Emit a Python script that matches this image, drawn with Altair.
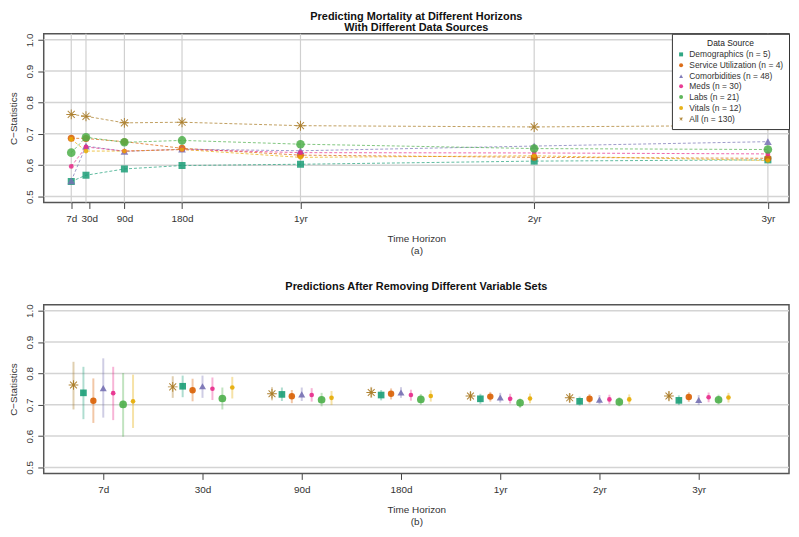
import math
import altair as alt
import pandas as pd

# ---------------- data ----------------
sources = ["Demographics", "Service Utilization", "Comorbidities", "Meds", "Labs", "Vitals", "All"]
counts = [5, 4, 48, 30, 21, 12, 130]
colors = ["#1B9E77", "#D95F02", "#7570B3", "#E7298A", "#4DAF4A", "#E6AB02", "#A6761D"]

horizons = ["7d", "30d", "90d", "180d", "1yr", "2yr", "3yr"]
horizon_days = [7, 30, 90, 180, 365, 730, 1095]
tick_days = [7, 35, 90, 180, 365, 730, 1095]
y_ticks = [0.5, 0.6, 0.7, 0.8, 0.9, 1.0]

# panel (a): C-statistic by data source and horizon
top_demo = [0.548, 0.568, 0.588, 0.599, 0.603, 0.613, 0.617]
top_serv = [0.686, 0.685, 0.675, 0.654, 0.632, 0.625, 0.622]
top_comorb = [0.550, 0.661, 0.644, 0.651, 0.646, 0.661, 0.675]
top_meds = [0.596, 0.658, 0.645, 0.650, 0.640, 0.639, 0.636]
top_labs = [0.640, 0.689, 0.673, 0.679, 0.667, 0.653, 0.650]
top_vitals = [0.683, 0.645, 0.645, 0.650, 0.625, 0.630, 0.615]
top_all = [0.762, 0.756, 0.735, 0.737, 0.726, 0.722, 0.727]

# panel (b): after removing variable sets (estimate, lower, upper)
bot_all_est = [0.763, 0.757, 0.735, 0.739, 0.728, 0.722, 0.728]
bot_all_lo = [0.685, 0.722, 0.714, 0.722, 0.713, 0.707, 0.711]
bot_all_hi = [0.837, 0.791, 0.756, 0.757, 0.742, 0.736, 0.744]
bot_demo_est = [0.738, 0.759, 0.733, 0.731, 0.719, 0.711, 0.714]
bot_demo_lo = [0.654, 0.724, 0.712, 0.714, 0.703, 0.697, 0.699]
bot_demo_hi = [0.821, 0.793, 0.755, 0.747, 0.735, 0.726, 0.730]
bot_serv_est = [0.713, 0.746, 0.727, 0.735, 0.726, 0.719, 0.725]
bot_serv_lo = [0.642, 0.711, 0.705, 0.717, 0.710, 0.704, 0.709]
bot_serv_hi = [0.784, 0.783, 0.747, 0.752, 0.741, 0.734, 0.740]
bot_comorb_est = [0.753, 0.759, 0.733, 0.739, 0.723, 0.716, 0.715]
bot_comorb_lo = [0.659, 0.722, 0.712, 0.722, 0.707, 0.702, 0.699]
bot_comorb_hi = [0.848, 0.793, 0.755, 0.756, 0.738, 0.731, 0.731]
bot_meds_est = [0.737, 0.751, 0.731, 0.731, 0.719, 0.717, 0.724]
bot_meds_lo = [0.651, 0.715, 0.710, 0.713, 0.704, 0.703, 0.708]
bot_meds_hi = [0.821, 0.787, 0.753, 0.748, 0.735, 0.732, 0.739]
bot_labs_est = [0.701, 0.720, 0.716, 0.717, 0.706, 0.709, 0.716]
bot_labs_lo = [0.598, 0.685, 0.695, 0.700, 0.690, 0.695, 0.701]
bot_labs_hi = [0.801, 0.755, 0.738, 0.734, 0.720, 0.724, 0.732]
bot_vitals_est = [0.711, 0.755, 0.722, 0.728, 0.720, 0.717, 0.723]
bot_vitals_lo = [0.626, 0.720, 0.699, 0.710, 0.705, 0.702, 0.707]
bot_vitals_hi = [0.796, 0.789, 0.744, 0.746, 0.736, 0.733, 0.738]

# ---------------- styling helpers ----------------
FONT = "Liberation Sans"
labels = [f"{s} (n = {k})" for s, k in zip(sources, counts)]

# asterisk (R pch 8): four crossed thin bars as a filled path
bar_w = 0.2
subpaths = []
for ang in [0, 45, 90, 135]:
    a = math.radians(ang)
    c, s = math.cos(a), math.sin(a)
    corners = [(-1, -bar_w / 2), (1, -bar_w / 2), (1, bar_w / 2), (-1, bar_w / 2)]
    rot = [(x * c - y * s, x * s + y * c) for x, y in corners]
    subpaths.append("M" + "L".join(f"{x:.3f},{y:.3f}" for x, y in rot) + "Z")
asterisk = "".join(subpaths)

shapes = ["square", "circle", "triangle-up", "circle", "circle", "circle", asterisk]
sizes_top = [50, 50, 60, 24, 75, 22, 100]
sizes_bot = [45, 42, 50, 22, 60, 22, 95]
group_order = [1, 2, 3, 4, 5, 6, 0]  # position inside each horizon group (All first)

top_series = [top_demo, top_serv, top_comorb, top_meds, top_labs, top_vitals, top_all]
bot_est = [bot_demo_est, bot_serv_est, bot_comorb_est, bot_meds_est, bot_labs_est, bot_vitals_est, bot_all_est]
bot_lo = [bot_demo_lo, bot_serv_lo, bot_comorb_lo, bot_meds_lo, bot_labs_lo, bot_vitals_lo, bot_all_lo]
bot_hi = [bot_demo_hi, bot_serv_hi, bot_comorb_hi, bot_meds_hi, bot_labs_hi, bot_vitals_hi, bot_all_hi]

top_rows = []
bot_rows = []
for si, s in enumerate(sources):
    for hi, h in enumerate(horizons):
        top_rows.append({"label": labels[si], "days": horizon_days[hi], "value": top_series[si][hi]})
        bot_rows.append({
            "label": labels[si],
            "pos": (hi + 1) + (group_order[si] - 3) * 0.1,
            "est": bot_est[si][hi], "lo": bot_lo[si][hi], "hi": bot_hi[si][hi],
        })
top_df = pd.DataFrame(top_rows)
bot_df = pd.DataFrame(bot_rows)

color_scale = alt.Scale(domain=labels, range=colors)
shape_scale = alt.Scale(domain=labels, range=shapes)
# legend-less channels use the same mapping listed in reverse order so that
# Vega-Lite does not merge them (and their disabled legend) into the colour legend
stroke_scale = alt.Scale(domain=labels[::-1], range=colors[::-1])
size_scale_top = alt.Scale(type="ordinal", domain=labels[::-1], range=sizes_top[::-1])
size_scale_bot = alt.Scale(type="ordinal", domain=labels[::-1], range=sizes_bot[::-1])

W, H = 751, 170
yscale = alt.Scale(domain=[0.481, 1.019], nice=False, zero=False)
yaxis = alt.Axis(values=y_ticks, format=".1f", labelAngle=270, labelAlign="center",
                 labelBaseline="bottom", labelPadding=3, title="C\u2212Statistics",
                 titlePadding=6, grid=False)

# --------- panel (a) ----------
top_label_expr = "".join(f"datum.value == {d} ? '{h}' : " for d, h in zip(tick_days, horizons)) + "''"
xscale_top = alt.Scale(domain=[-36, 1128], nice=False, zero=False)
xaxis_top = alt.Axis(values=tick_days, labelExpr=top_label_expr, title=["Time Horizon", "(a)"],
                     labelPadding=5, titlePadding=10, grid=False)

hgrid_top = alt.Chart(pd.DataFrame({"y": y_ticks})).mark_rule(color="#D4D4D4", strokeWidth=1.5).encode(
    y=alt.Y("y:Q", scale=yscale, axis=yaxis))
vgrid_top = alt.Chart(pd.DataFrame({"d": horizon_days})).mark_rule(color="#D0D0D0", strokeWidth=1.2).encode(
    x=alt.X("d:Q", scale=xscale_top, axis=xaxis_top))
lines_top = alt.Chart(top_df).mark_line(strokeDash=[3, 2], strokeWidth=1, opacity=0.7).encode(
    x=alt.X("days:Q", scale=xscale_top, axis=xaxis_top),
    y=alt.Y("value:Q", scale=yscale, axis=yaxis),
    stroke=alt.Stroke("label:N", scale=stroke_scale, legend=None),
    detail="label:N",
)
leg = alt.Legend(title="Data Source", orient="top-right", offset=0)
pts_top = alt.Chart(top_df).mark_point(filled=True, opacity=0.85).encode(
    x=alt.X("days:Q", scale=xscale_top, axis=xaxis_top),
    y=alt.Y("value:Q", scale=yscale, axis=yaxis),
    color=alt.Color("label:N", scale=color_scale, legend=leg),
    shape=alt.Shape("label:N", scale=shape_scale, legend=leg),
    size=alt.Size("label:N", scale=size_scale_top, legend=None),
)
top = alt.layer(hgrid_top, vgrid_top, lines_top, pts_top).properties(
    width=W, height=H,
    title=alt.TitleParams(["Predicting Mortality at Different Horizons", "With Different Data Sources"],
                          offset=0, lineHeight=11),
)

# --------- panel (b) ----------
bot_label_expr = "".join(f"datum.value == {i + 1} ? '{h}' : " for i, h in enumerate(horizons)) + "''"
xscale_bot = alt.Scale(domain=[0.40, 7.91], nice=False, zero=False)
xaxis_bot = alt.Axis(values=list(range(1, len(horizons) + 1)), labelExpr=bot_label_expr,
                     title=["Time Horizon", "(b)"], labelPadding=5, titlePadding=10, grid=False)

hgrid_bot = alt.Chart(pd.DataFrame({"y": y_ticks})).mark_rule(color="#D4D4D4", strokeWidth=1.5).encode(
    y=alt.Y("y:Q", scale=yscale, axis=yaxis))
err_bot = alt.Chart(bot_df).mark_rule(strokeWidth=2, opacity=0.35).encode(
    x=alt.X("pos:Q", scale=xscale_bot, axis=xaxis_bot),
    y=alt.Y("lo:Q", scale=yscale, axis=yaxis),
    y2="hi:Q",
    stroke=alt.Stroke("label:N", scale=stroke_scale, legend=None),
)
pts_bot = alt.Chart(bot_df).mark_point(filled=True, opacity=0.9).encode(
    x=alt.X("pos:Q", scale=xscale_bot, axis=xaxis_bot),
    y=alt.Y("est:Q", scale=yscale, axis=yaxis),
    color=alt.Color("label:N", scale=color_scale, legend=None),
    shape=alt.Shape("label:N", scale=shape_scale, legend=None),
    size=alt.Size("label:N", scale=size_scale_bot, legend=None),
)
bottom = alt.layer(hgrid_bot, err_bot, pts_bot).properties(
    width=W, height=H,
    title=alt.TitleParams("Predictions After Removing Different Variable Sets", offset=12),
)

chart = alt.vconcat(top, bottom, spacing=24).resolve_scale(
    color="independent", shape="independent", size="independent", stroke="independent",
    x="independent", y="independent"
).resolve_legend(color="independent", shape="independent", size="independent",
                 stroke="independent").properties(
    padding={"left": 0, "top": 0, "right": 0, "bottom": 0},
    background="white",
).configure_view(
    stroke="#555555", strokeWidth=1.5
).configure_axis(
    labelFont=FONT, labelFontSize=10, labelColor="#333333", tickColor="#444444", tickSize=6,
    domain=False, titleFont=FONT, titleFontSize=10, titleFontWeight="normal", titleColor="#333333",
).configure_title(
    font=FONT, fontSize=11, fontWeight="bold", color="#111111", anchor="middle",
).configure_legend(
    strokeColor="#333333", fillColor="white", padding=5, cornerRadius=0,
    titleFont=FONT, titleFontSize=8.5, titleFontWeight="normal", titleColor="#222222",
    titleAnchor="middle", labelFont=FONT, labelFontSize=8.5, labelColor="#333333",
    labelLimit=300, symbolSize=16, rowPadding=0, symbolOpacity=0.9, titlePadding=3,
    labelOffset=4,
)

chart.save("out.html", embed_options={"renderer": "svg", "actions": False})
